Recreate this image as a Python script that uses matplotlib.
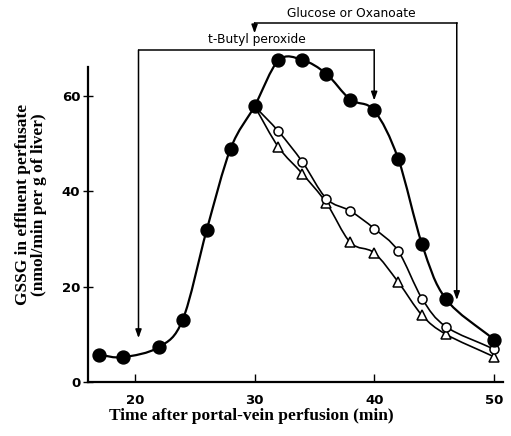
import numpy as np
import matplotlib
matplotlib.use("Agg")
import matplotlib.pyplot as plt
from matplotlib.path import Path
from matplotlib.patches import PathPatch


# GSSG release (nmol/min per g of liver)
time_filled = [17, 19, 22, 24, 26, 28, 30, 32, 34, 36, 38, 40, 42, 44, 46, 50]
gssg_filled = [5.7, 5.2, 7.3, 13.1, 31.9, 49.0, 57.9, 67.5, 67.6, 64.7, 59.3, 57.0, 46.9, 28.9, 17.4, 8.9]

# glucose / oxanoate branches start from the 30 min point
time_branch = [30, 32, 34, 36, 38, 40, 42, 44, 46, 50]
gssg_open = [57.9, 52.6, 46.2, 38.5, 35.9, 32.2, 27.5, 17.5, 11.6, 6.9]
gssg_triangle = [57.9, 49.3, 43.7, 37.6, 29.3, 27.1, 21.0, 14.0, 10.0, 5.3]

x_ticks = [20, 30, 40, 50]
y_ticks = [0, 20, 40, 60]


def smooth_path(xs, ys):
    # Catmull-Rom through the points, written as cubic Bezier segments
    p = np.column_stack([xs, ys]).astype(float)
    ext = np.vstack([2 * p[0] - p[1], p, 2 * p[-1] - p[-2]])
    verts = [p[0]]
    codes = [Path.MOVETO]
    for i in range(1, len(ext) - 2):
        c1 = ext[i] + (ext[i + 1] - ext[i - 1]) / 6
        c2 = ext[i + 1] - (ext[i + 2] - ext[i]) / 6
        verts += [c1, c2, ext[i + 1]]
        codes += [Path.CURVE4] * 3
    return Path(verts, codes)


def draw_curve(ax, xs, ys, lw=1.3):
    patch = PathPatch(smooth_path(xs, ys), facecolor="none", edgecolor="black", lw=lw,
                      zorder=2, clip_on=False)
    ax.add_patch(patch)


fig = plt.figure(figsize=(5.11, 4.36), dpi=100)
ax = fig.add_axes([0.172, 0.124, 0.812, 0.722])

draw_curve(ax, time_filled, gssg_filled, lw=1.6)
draw_curve(ax, time_branch, gssg_open, lw=1.2)
draw_curve(ax, time_branch, gssg_triangle, lw=1.2)

ax.plot(time_branch[1:], gssg_triangle[1:], ls="none", marker="^", ms=7,
        mfc="white", mec="black", mew=1.1, zorder=3, clip_on=False)
ax.plot(time_branch[1:], gssg_open[1:], ls="none", marker="o", ms=6.5,
        mfc="white", mec="black", mew=1.1, zorder=3, clip_on=False)
ax.plot(time_filled, gssg_filled, ls="none", marker="o", ms=9.3,
        mfc="black", mec="black", zorder=4, clip_on=False)

ax.set_xlim(16.07, 50.75)
ax.set_ylim(0, 66.1)
ax.set_xticks(x_ticks)
ax.set_yticks(y_ticks)

for side in ["top", "right"]:
    ax.spines[side].set_visible(False)
for side in ["left", "bottom"]:
    ax.spines[side].set_linewidth(1.6)

ax.tick_params(axis="x", direction="in", length=6, width=1.0, pad=9)
ax.tick_params(axis="y", direction="inout", length=7, width=1.0, pad=2)
for lab in ax.get_xticklabels() + ax.get_yticklabels():
    lab.set_fontfamily("DejaVu Sans")
    lab.set_fontweight("bold")
    lab.set_fontsize(9.5)

# treatment brackets
arrow_kw = dict(arrowstyle="-|>,head_length=0.5,head_width=0.18", color="black", lw=1.1,
                shrinkA=0, shrinkB=0)

tb_x0, tb_x1, tb_top = 20.3, 40.0, 69.7
ax.plot([tb_x0, tb_x1], [tb_top, tb_top], color="black", lw=1.1, clip_on=False)
ax.annotate("", xy=(tb_x0, 9.2), xytext=(tb_x0, tb_top), arrowprops=arrow_kw, annotation_clip=False)
ax.annotate("", xy=(tb_x1, 59.1), xytext=(tb_x1, tb_top), arrowprops=arrow_kw, annotation_clip=False)
ax.text(30.2, 71.8, "t-Butyl peroxide", ha="center", va="center", fontsize=8.8,
        fontfamily="DejaVu Sans")

gl_x0, gl_x1, gl_top = 30.0, 46.9, 75.4
ax.plot([gl_x0, gl_x1], [gl_top, gl_top], color="black", lw=1.1, clip_on=False)
ax.annotate("", xy=(gl_x0, 73.2), xytext=(gl_x0, gl_top), arrowprops=arrow_kw, annotation_clip=False)
ax.annotate("", xy=(gl_x1, 17.2), xytext=(gl_x1, gl_top), arrowprops=arrow_kw, annotation_clip=False)
ax.text(38.1, 77.4, "Glucose or Oxanoate", ha="center", va="center", fontsize=8.8,
        fontfamily="DejaVu Sans")

fig.text(0.492, 0.046, "Time after portal-vein perfusion (min)", ha="center", va="center",
         fontsize=12.5, fontweight="bold", fontfamily="Liberation Serif")
fig.text(0.061, 0.53, "GSSG in effluent perfusate\n(nmol/min per g of liver)", ha="center",
         va="center", rotation=90, multialignment="center", linespacing=1.05,
         fontsize=12.5, fontweight="bold", fontfamily="Liberation Serif")

fig.savefig("out.png", dpi=100)
